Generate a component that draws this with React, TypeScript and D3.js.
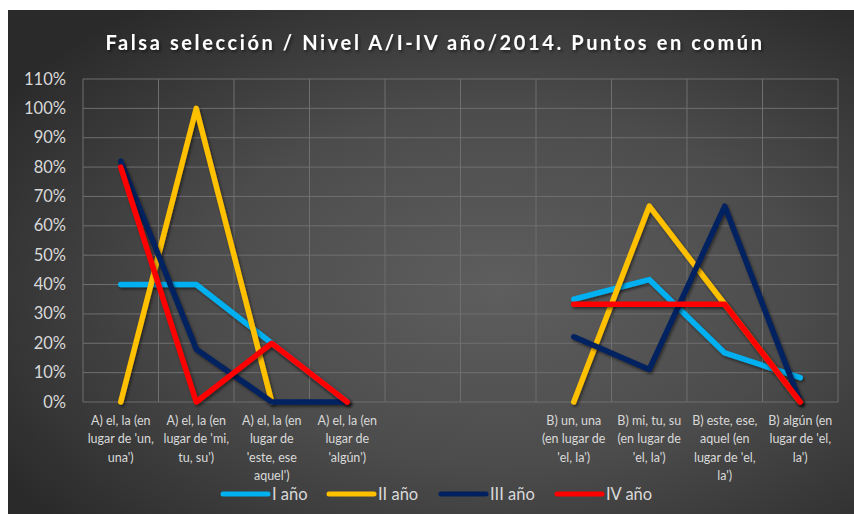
import React from "react";
import * as d3 from "d3";

const categories: string[][] = [
  ["A) el, la (en", "lugar de 'un,", "una')"],
  ["A) el, la (en", "lugar de 'mi,", "tu, su')"],
  ["A) el, la (en", "lugar de", "'este, ese", "aquel')"],
  ["A) el, la (en", "lugar de", "'algún')"],
  [],
  [],
  ["B) un, una", "(en lugar de", "'el, la')"],
  ["B) mi, tu, su", "(en lugar de", "'el, la')"],
  ["B) este, ese,", "aquel (en", "lugar de 'el,", "la')"],
  ["B) algún (en", "lugar de 'el,", "la')"],
];

const seriesNames = ["I año", "II año", "III año", "IV año"];
const seriesColors = ["#00B0F0", "#FFC000", "#002060", "#FF0000"];

const serieI: (number | null)[] = [40, 40, 20, 0, null, null, 35, 41.7, 16.7, 8.3];
const serieII: (number | null)[] = [0, 100, 0, null, null, null, 0, 66.7, 33.3, 0];
const serieIII: (number | null)[] = [82, 18, 0, 0, null, null, 22.2, 11.1, 66.7, 0];
const serieIV: (number | null)[] = [80, 0, 20, 0, null, null, 33.3, 33.3, 33.3, 0];

const yTicks = [0, 10, 20, 30, 40, 50, 60, 70, 80, 90, 100, 110];

const title = "Falsa selección / Nivel A/I-IV año/2014. Puntos en común";

export default function App() {
  const W = 854;
  const H = 514;
  const left = 83;
  const right = 838;
  const top = 79;
  const bottom = 402;
  const idx = categories.map((_, i) => i);
  const x = d3.scaleBand<number>().domain(idx).range([left, right]).padding(0);
  const y = d3.scaleLinear().domain([0, 110]).range([bottom, top]);
  const series = [serieI, serieII, serieIII, serieIV];
  const line = d3
    .line<number | null>()
    .defined((d) => d !== null)
    .x((_, i) => (x(i) as number) + x.bandwidth() / 2)
    .y((d) => y(d as number));
  const font = "Lato, 'Open Sans', sans-serif";
  const txt = "#D9D9D9";
  const legendX = [223, 329, 441, 557];
  return (
    <div style={{ position: "absolute", left: 0, top: 0 }}>
      <svg width={W} height={H} style={{ display: "block" }}>
        <defs>
          <radialGradient id="bg" cx="0.58" cy="0.55" r="0.7">
            <stop offset="0" stopColor="#5e5e5e" />
            <stop offset="0.5" stopColor="#4c4c4c" />
            <stop offset="1" stopColor="#2a2a2a" />
          </radialGradient>
          <filter id="sh" x="-10%" y="-10%" width="120%" height="120%">
            <feDropShadow dx="1.5" dy="2" stdDeviation="1.5" floodColor="#000" floodOpacity="0.5" />
          </filter>
        </defs>
        <rect x={0} y={0} width={W} height={H} fill="#fff" />
        <rect x={8} y={10} width={W - 8} height={H - 10} fill="url(#bg)" />
        <text
          x={435}
          y={50}
          textAnchor="middle"
          fill="#fff"
          fontFamily={font}
          fontSize={20}
          fontWeight={700}
          letterSpacing={2.6}
          filter="url(#sh)"
        >
          {title}
        </text>
        {yTicks.map((t) => (
          <g key={t}>
            <line x1={left} x2={right} y1={y(t)} y2={y(t)} stroke="#6f6f6f" strokeWidth={1} />
            <text
              x={66}
              y={y(t) + 5.5}
              textAnchor="end"
              fill={txt}
              fontFamily={font}
              fontSize={16.5}
            >
              {t}%
            </text>
          </g>
        ))}
        {d3.range(categories.length + 1).map((i) => {
          const xx = left + i * x.bandwidth();
          return <line key={i} x1={xx} x2={xx} y1={top} y2={bottom} stroke="#6f6f6f" strokeWidth={1} />;
        })}
        {series.map((s, k) => (
          <path
            key={k}
            d={line(s) || ""}
            fill="none"
            stroke={seriesColors[k]}
            strokeWidth={5.5}
            strokeLinecap="round"
            strokeLinejoin="round"
            filter="url(#sh)"
          />
        ))}
        {categories.map((lines, i) => (
          <text
            key={i}
            textAnchor="middle"
            fill={txt}
            fontFamily={font}
            fontSize={12.5}
          >
            {lines.map((l, j) => (
              <tspan key={j} x={(x(i) as number) + x.bandwidth() / 2} y={425 + j * 18.3}>
                {l}
              </tspan>
            ))}
          </text>
        ))}
        {seriesNames.map((n, k) => (
          <g key={n}>
            <line
              x1={legendX[k]}
              x2={legendX[k] + 45}
              y1={494}
              y2={494}
              stroke={seriesColors[k]}
              strokeWidth={5}
              strokeLinecap="round"
            />
            <text x={legendX[k] + 49} y={500} fill={txt} fontFamily={font} fontSize={16.5}>
              {n}
            </text>
          </g>
        ))}
      </svg>
    </div>
  );
}
